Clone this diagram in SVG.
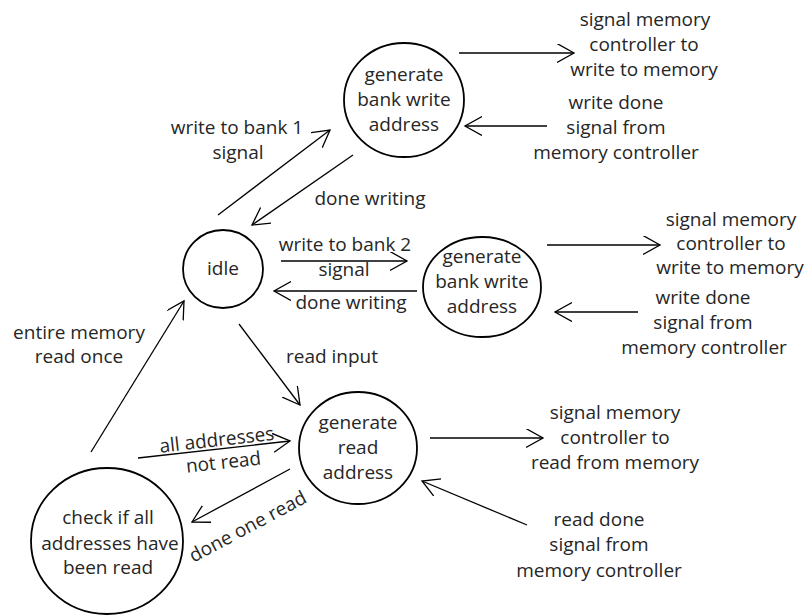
<svg xmlns="http://www.w3.org/2000/svg" width="809" height="616" viewBox="0 0 809 616">
  <defs>
    <marker id="arrow" markerUnits="userSpaceOnUse" markerWidth="20" markerHeight="22" refX="17" refY="9.5" orient="auto">
      <path d="M0,0 L17,9.5 L0,19" fill="none" stroke="#000" stroke-width="1.3"/>
    </marker>
  </defs>
  <style>
    text { font-family: "Open Sans", "DejaVu Sans", sans-serif; font-size: 19px; fill: #262626; text-anchor: middle; }
    .state { fill: none; stroke: #000; stroke-width: 1.8; }
    .edge { stroke: #000; stroke-width: 1.3; fill: none; marker-end: url(#arrow); }
  </style>
  <rect width="809" height="616" fill="#fff"/>

  <!-- state nodes -->
  <g id="bank1-write">
    <ellipse class="state" cx="404" cy="100" rx="60" ry="57"/>
    <text x="404" y="81">generate</text>
    <text x="404" y="106">bank write</text>
    <text x="404" y="131">address</text>
  </g>
  <g id="idle">
    <ellipse class="state" cx="223" cy="269" rx="40" ry="39"/>
    <text x="223" y="275">idle</text>
  </g>
  <g id="bank2-write">
    <ellipse class="state" cx="482" cy="287" rx="59" ry="50"/>
    <text x="482" y="263">generate</text>
    <text x="482" y="288">bank write</text>
    <text x="482" y="313">address</text>
  </g>
  <g id="read-address">
    <ellipse class="state" cx="358" cy="448" rx="59" ry="56"/>
    <text x="358" y="429">generate</text>
    <text x="358" y="454">read</text>
    <text x="358" y="479">address</text>
  </g>
  <g id="check-all-read">
    <ellipse class="state" cx="107" cy="541" rx="76" ry="73"/>
    <text x="108" y="524">check if all</text>
    <text x="110" y="550">addresses have</text>
    <text x="108" y="574">been read</text>
  </g>

  <!-- external signals -->
  <g id="ext-bank1-out">
    <text x="645" y="26">signal memory</text>
    <text x="644" y="51">controller to</text>
    <text x="644" y="76">write to memory</text>
  </g>
  <g id="ext-bank1-in">
    <text x="616" y="109">write done</text>
    <text x="616" y="134">signal from</text>
    <text x="616" y="159">memory controller</text>
  </g>
  <g id="ext-bank2-out">
    <text x="731" y="226">signal memory</text>
    <text x="731" y="250">controller to</text>
    <text x="730" y="274">write to memory</text>
  </g>
  <g id="ext-bank2-in">
    <text x="703" y="304">write done</text>
    <text x="703" y="329">signal from</text>
    <text x="704" y="354">memory controller</text>
  </g>
  <g id="ext-read-out">
    <text x="615" y="419">signal memory</text>
    <text x="615" y="444">controller to</text>
    <text x="615" y="469">read from memory</text>
  </g>
  <g id="ext-read-in">
    <text x="599" y="526">read done</text>
    <text x="599" y="551">signal from</text>
    <text x="599" y="577">memory controller</text>
  </g>

  <!-- transitions -->
  <g id="connectors">
    <line class="edge" x1="218" y1="215" x2="330" y2="130"/>
    <line class="edge" x1="353" y1="155" x2="252" y2="225"/>
    <line class="edge" x1="459" y1="53" x2="574" y2="53"/>
    <line class="edge" x1="547" y1="126" x2="465" y2="126"/>
    <line class="edge" x1="281" y1="261" x2="407" y2="261"/>
    <line class="edge" x1="417" y1="291" x2="274" y2="291"/>
    <line class="edge" x1="547" y1="245" x2="660" y2="245"/>
    <line class="edge" x1="638" y1="312" x2="555" y2="312"/>
    <line class="edge" x1="239" y1="324" x2="300" y2="405"/>
    <line class="edge" x1="430" y1="438" x2="543" y2="438"/>
    <line class="edge" x1="527" y1="525" x2="422" y2="481"/>
    <line class="edge" x1="138" y1="458" x2="290" y2="441"/>
    <line class="edge" x1="290" y1="469" x2="192" y2="522"/>
    <line class="edge" x1="91" y1="452" x2="184" y2="301"/>

    <text x="237" y="134">write to bank 1</text>
    <text x="238" y="159">signal</text>
    <text x="370" y="205">done writing</text>
    <text x="345" y="251">write to bank 2</text>
    <text x="344" y="276">signal</text>
    <text x="351" y="309">done writing</text>
    <text x="332" y="363">read input</text>
    <text x="79" y="339">entire memory</text>
    <text x="79" y="363">read once</text>
    <g transform="rotate(-6.4 220 450)">
      <text x="218" y="446">all addresses</text>
      <text x="222" y="469">not read</text>
    </g>
    <text x="248" y="533" transform="rotate(-28 248 527)">done one read</text>
  </g>
</svg>
